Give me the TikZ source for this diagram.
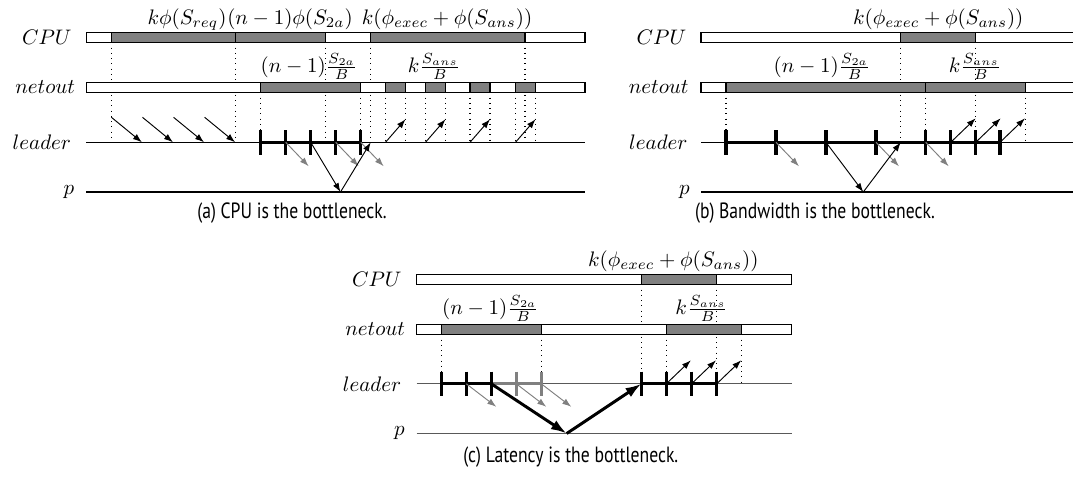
\documentclass[tikz,border=0pt]{standalone}
\usepackage{fontspec}
\newfontfamily\capfont[FakeStretch=0.8]{PT Sans}
\usetikzlibrary{arrows.meta}
\begin{document}
\begin{tikzpicture}[x=0.476pt,y=-0.476pt,
  bar/.style={draw=black, line width=0.5pt, fill=white},
  busy/.style={draw=black, line width=0.5pt, fill=black!50},
  tline/.style={line width=0.5pt},
  gline/.style={line width=0.5pt, draw=black!65},
  dots/.style={dotted, line width=0.5pt},
  msg/.style={line width=0.45pt, -{Latex[length=4.3pt,width=3pt]}},
  gmsg/.style={msg, draw=black!50},
  work/.style={line width=1.3pt},
  gwork/.style={line width=1.3pt, draw=black!50},
  tickmark/.style={line width=1.5pt},
  gtickmark/.style={line width=1.5pt, draw=black!50},
  bigmsg/.style={line width=1.4pt, -{Latex[length=7.5pt,width=5pt]}},
  lbl/.style={anchor=east, inner sep=0pt},
  toplbl/.style={anchor=south, inner sep=0pt},
  captext/.style={inner sep=0pt, font=\capfont\fontsize{10.5}{12}\selectfont}]
\useasboundingbox (0,0) rectangle (1073,478);

% ================= (a) CPU is the bottleneck =================
\foreach \x in {111.4,235.7,325.7,370.7,525} \draw[dots] (\x,42.3) -- (\x,142.3);
\foreach \x in {260.7,360.7,385.5,405.5,425.5,445.5,470,490,515.5,535.5} \draw[dots] (\x,92.3) -- (\x,142.3);
\draw[bar] (86.4,32.3) rectangle (585,42.3);
\draw[busy] (111.4,32.3) rectangle (235.7,42.3);
\draw[busy] (235.7,32.3) rectangle (325.7,42.3);
\draw[busy] (370.7,32.3) rectangle (525,42.3);
\draw[bar] (86.4,82.3) rectangle (585,92.3);
\draw[busy] (260.7,82.3) rectangle (360.7,92.3);
\foreach \x in {385.5,425.5,470,515.5} \draw[busy] (\x,82.3) rectangle ++(20,10);
\draw[tline] (86.4,142.3) -- (585,142.3);
\draw[tline] (86.4,192) -- (585,192);
\node[lbl] (aC) at (72,37.3) {$CPU$};
\node[lbl] (aN) at (75.5,87.3) {$netout$};
\node[lbl] (aL) at (71.5,142.3) {$leader$};
\node[lbl] (aP) at (74.5,192) {$p$};
\node[toplbl] (aT1) at (187,30.5) {$k\phi(S_{req})$};
\node[toplbl] (aT2) at (290,30.5) {$(n-1)\phi(S_{2a})$};
\node[toplbl] (aT3) at (447,30.5) {$k(\phi_{exec}+\phi(S_{ans}))$};
\node[toplbl] (aT4) at (309,80) {$(n-1)\frac{S_{2a}}{B}$};
\node[toplbl] (aT5) at (434,80) {$k\frac{S_{ans}}{B}$};
\foreach \i in {0,1,2,3} \draw[msg] ({111.4+31.08*\i},117.3) -- ++(30.5,25);
\draw[work] (260.7,142.3) -- (360.7,142.3);
\foreach \x in {260.7,285.7,310.7,335.7,360.7} \draw[tickmark] (\x,130.1) -- (\x,154.5);
\foreach \x in {285.7,335.7,360.7} \draw[gmsg] (\x,142.3) -- ++(23,24);
\coordinate (aS) at (310.7,142.3);
\coordinate (aV) at (340.5,192);
\coordinate (aE) at (370.7,142.3);
\draw[msg] (aS) -- (aV);
\draw[msg] (aV) -- (aE);
\foreach \x in {385.5,425.5,470,515.5} \draw[msg] (\x,142.3) -- ++(20,-23);
\node[captext] (capa) at (292,213) {(a) CPU is the bottleneck.};

% ================= (b) Bandwidth is the bottleneck =================
\foreach \x in {900.7,975.7} \draw[dots] (\x,42.3) -- (\x,142.3);
\foreach \x in {726,925.7,1025.7} \draw[dots] (\x,92.3) -- (\x,142.3);
\draw[bar] (701,32.3) rectangle (1078,42.3);
\draw[busy] (900.7,32.3) rectangle (975.7,42.3);
\draw[bar] (701,82.3) rectangle (1078,92.3);
\draw[busy] (726,82.3) rectangle (925.7,92.3);
\draw[busy] (925.7,82.3) rectangle (1025.7,92.3);
\draw[tline] (701,142.3) -- (1078,142.3);
\draw[tline] (701,192) -- (1078,192);
\node[lbl] (bC) at (686.6,37.3) {$CPU$};
\node[lbl] (bN) at (689,87.3) {$netout$};
\node[lbl] (bL) at (688,142.3) {$leader$};
\node[lbl] (bP) at (690,192) {$p$};
\node[toplbl] (bT1) at (938.2,30.5) {$k(\phi_{exec}+\phi(S_{ans}))$};
\node[toplbl] (bT2) at (822,80) {$(n-1)\frac{S_{2a}}{B}$};
\node[toplbl] (bT3) at (975,80) {$k\frac{S_{ans}}{B}$};
\draw[work] (726,142.3) -- (1000,142.3);
\foreach \x in {726,776,826,876,925.7,950.7,975.7,1000} \draw[tickmark] (\x,130.1) -- (\x,154.5);
\foreach \x in {776,876,925.7} \draw[gmsg] (\x,142.3) -- ++(23,24);
\coordinate (bS) at (826,142.3);
\coordinate (bV) at (863.3,192);
\coordinate (bE) at (900.7,142.3);
\draw[msg] (bS) -- (bV);
\draw[msg] (bV) -- (bE);
\foreach \x in {950.7,975.7,1000} \draw[msg] (\x,142.3) -- ++(25,-24);
\node[captext] (capb) at (815,213) {(b) Bandwidth is the bottleneck.};

% ================= (c) Latency is the bottleneck =================
\foreach \x in {641.3,716.7} \draw[dots] (\x,284.3) -- (\x,383.8);
\foreach \x in {441.3,541.3,666.3,741.3} \draw[dots] (\x,334.3) -- (\x,383.8);
\draw[bar] (416.7,274.3) rectangle (791.7,284.3);
\draw[busy] (641.3,274.3) rectangle (716.7,284.3);
\draw[bar] (416.7,324.3) rectangle (791.7,334.3);
\draw[busy] (441.3,324.3) rectangle (541.3,334.3);
\draw[busy] (666.3,324.3) rectangle (741.3,334.3);
\draw[gline] (416.7,383.8) -- (791.7,383.8);
\draw[gline] (416.7,433.5) -- (791.7,433.5);
\node[lbl] (cC) at (402,279.3) {$CPU$};
\node[lbl] (cN) at (405.5,329.3) {$netout$};
\node[lbl] (cL) at (401.7,383.8) {$leader$};
\node[lbl] (cP) at (405,433.5) {$p$};
\node[toplbl] (cT1) at (673.3,272.5) {$k(\phi_{exec}+\phi(S_{ans}))$};
\node[toplbl] (cT2) at (490.5,322) {$(n-1)\frac{S_{2a}}{B}$};
\node[toplbl] (cT3) at (701.7,322) {$k\frac{S_{ans}}{B}$};
\draw[work] (441.3,383.8) -- (491.3,383.8);
\draw[gwork] (491.3,383.8) -- (541.3,383.8);
\foreach \x in {441.3,466.3,491.3} \draw[tickmark] (\x,371.6) -- (\x,396);
\foreach \x in {516.3,541.3} \draw[gtickmark] (\x,371.6) -- (\x,396);
\foreach \x in {466.3,516.3,541.3} \draw[gmsg] (\x,383.8) -- ++(30,23);
\coordinate (cS) at (491.3,383.8);
\coordinate (cV) at (566.7,433.5);
\coordinate (cE) at (641.3,383.8);
\draw[bigmsg] (cS) -- (cV);
\draw[bigmsg] (cV) -- (cE);
\draw[work] (641.3,383.8) -- (716.7,383.8);
\foreach \x in {641.3,666.3,691.5,716.7} \draw[tickmark] (\x,371.6) -- (\x,396);
\foreach \x in {666.3,691.5,716.7} \draw[msg] (\x,383.8) -- ++(24.5,-23.5);
\node[captext] (capc) at (570.8,456.7) {(c) Latency is the bottleneck.};
\end{tikzpicture}
\end{document}
